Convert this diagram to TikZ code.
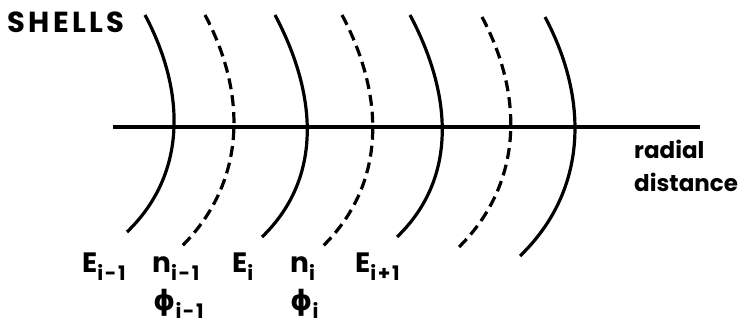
\documentclass[tikz,border=0pt]{standalone}
\usepackage{fontspec}
\setmainfont{Poppins}
\newfontfamily\grkfont{DejaVu Sans}
\newcommand{\lowsub}[1]{\raisebox{-8pt}{\fontsize{20}{20}\selectfont\addfontfeatures{LetterSpace=8}#1}}

\begin{document}
\begin{tikzpicture}[x=1pt,y=1pt]
\tikzset{
  shellsolid/.style={line width=3.2pt},
  shelldashed/.style={line width=3.2pt,dash pattern=on 11pt off 6pt},
  axisline/.style={line width=3.2pt},
  shelllabel/.style={anchor=base west,inner sep=0pt,font=\fontsize{28}{32}\selectfont\bfseries}
}
\useasboundingbox (0,0) rectangle (751,324);
% radial axis
\coordinate (ax_L) at (113,197);
\coordinate (ax_R) at (700,197);
\draw[axisline] (ax_L) -- (ax_R);
% shells: top x / top y / bottom x / bottom y / style
\foreach \tx/\ty/\bx/\by/\sty in {145/309/127/92/shellsolid,
  205/309/180/76/shelldashed, 275/309/262/87/shellsolid,
  342/309/322/77/shelldashed, 410/309/397/87/shellsolid,
  482/307/457/75/shelldashed, 545/307/520/68/shellsolid}
  \draw[\sty] (\tx,\ty) to[out=-62,in=44] (\bx,\by);
\node[shelllabel,font=\fontsize{29}{33}\selectfont\bfseries\addfontfeatures{LetterSpace=12}]
  (t_shells) at (7,291) {SHELLS};
\node[anchor=north west,inner sep=0pt,align=left,font=\fontsize{23}{33}\selectfont\bfseries]
  (t_radial) at (634,184) {radial\\distance};
\node[shelllabel] (l_E0) at (82,52) {E\lowsub{i-1}};
\node[shelllabel] (l_n0) at (152,52) {n\lowsub{i-1}};
\node[shelllabel] (l_E1) at (232,52) {E\lowsub{i}};
\node[shelllabel] (l_n1) at (290,52) {n\lowsub{i}};
\node[shelllabel] (l_E2) at (355,52) {E\lowsub{i+1}};
\node[shelllabel] (l_p0) at (153,14) {{\grkfont ϕ}\lowsub{i-1}};
\node[shelllabel] (l_p1) at (290,14) {{\grkfont ϕ}\lowsub{i}};
\end{tikzpicture}
\end{document}
